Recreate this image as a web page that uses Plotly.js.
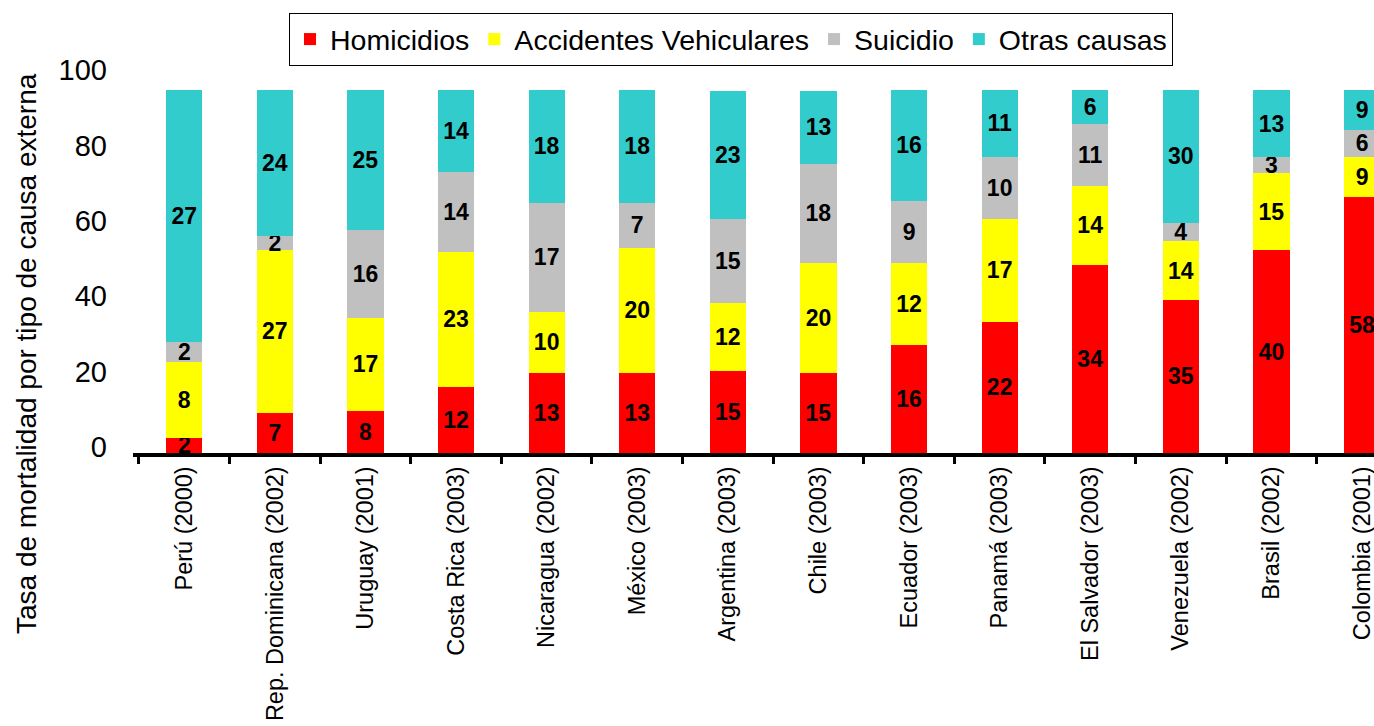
<!DOCTYPE html>
<html>
<head>
<meta charset="utf-8">
<script src="https://cdn.plot.ly/plotly-3.0.1.min.js"></script>
<style>html,body{margin:0;padding:0;background:#fff;}#chart{width:1374px;height:726px;}</style>
</head>
<body>
<div id="chart"></div>
<script>
// Categories (country, year)
const countries = ['Perú (2000)', 'Rep. Dominicana (2002)', 'Uruguay (2001)', 'Costa Rica (2003)',
  'Nicaragua (2002)', 'México (2003)', 'Argentina (2003)', 'Chile (2003)', 'Ecuador (2003)',
  'Panamá (2003)', 'El Salvador (2003)', 'Venezuela (2002)', 'Brasil (2002)', 'Colombia (2001)'];

// Labelled rates (text shown inside each segment)
const homicidiosLabel = [2, 7, 8, 12, 13, 13, 15, 15, 16, 22, 34, 35, 40, 58];
const accidentesLabel = [8, 27, 17, 23, 10, 20, 12, 20, 12, 17, 14, 14, 15, 9];
const suicidioLabel   = [2, 2, 16, 14, 17, 7, 15, 18, 9, 10, 11, 4, 3, 6];
const otrasLabel      = [27, 24, 25, 14, 18, 18, 23, 13, 16, 11, 6, 30, 13, 9];

// Segment heights (axis units)
const homicidiosHeight = [4.1, 10.7, 11.1, 17.6, 21.3, 21.3, 21.8, 21.3, 28.7, 34.8, 49.9, 40.6, 53.8, 67.9];
const accidentesHeight = [20.1, 43.1, 24.8, 35.8, 16.2, 33.2, 18.1, 29.2, 21.8, 27.3, 20.9, 15.6, 20.5, 10.6];
const suicidioHeight   = [5.3, 3.8, 23.3, 21.2, 28.9, 11.9, 22.2, 26.2, 16.4, 16.5, 16.5, 4.8, 4.2, 7.2];
const otrasHeight      = [66.8, 38.7, 37.1, 21.7, 29.9, 29.9, 33.9, 19.3, 29.4, 17.7, 9.0, 35.3, 17.8, 10.6];

const seriesNames = ['Homicidios', 'Accidentes Vehiculares', 'Suicidio', 'Otras causas'];
const seriesColors = ['#FF0000', '#FFFF00', '#C0C0C0', '#33CCCC'];
const yTicks = [0, 20, 40, 60, 80, 100];

const FONT = 'Liberation Sans, Arial, sans-serif';
const heights = [homicidiosHeight, accidentesHeight, suicidioHeight, otrasHeight];
const labels = [homicidiosLabel, accidentesLabel, suicidioLabel, otrasLabel];

const traces = seriesNames.map((name, i) => ({
  type: 'bar',
  name: name,
  x: countries,
  y: heights[i],
  text: labels[i].map(String),
  texttemplate: '<b>%{text}</b>',
  textposition: 'inside',
  insidetextanchor: 'middle',
  constraintext: 'none',
  textangle: 0,
  insidetextfont: {family: FONT, size: 23, color: '#000000'},
  marker: {color: seriesColors[i], line: {width: 0}},
  hoverinfo: 'x+name+text'
}));

const layout = {
  width: 1374,
  height: 726,
  paper_bgcolor: '#ffffff',
  plot_bgcolor: '#ffffff',
  barmode: 'stack',
  bargap: 0.6,
  margin: {l: 133, r: 0, t: 76, b: 273, pad: 0},
  font: {family: FONT, color: '#000000'},
  showlegend: true,
  legend: {
    orientation: 'h',
    x: 0.1257, xanchor: 'left',
    y: 1.167, yanchor: 'top',
    bordercolor: '#000000', borderwidth: 1,
    bgcolor: '#ffffff',
    font: {family: FONT, size: 28.5, color: '#000000'},
    itemwidth: 30,
    traceorder: 'normal'
  },
  xaxis: {
    type: 'category',
    range: [-0.566, 13.132],
    showgrid: false,
    zeroline: false,
    showline: true,
    linecolor: '#000000',
    linewidth: 4,
    ticks: 'outside',
    tickson: 'boundaries',
    ticklen: 7,
    tickwidth: 3,
    tickcolor: '#000000',
    tickangle: -90,
    tickfont: {family: FONT, size: 23.5, color: '#000000'},
    fixedrange: true
  },
  yaxis: {
    range: [0, 100],
    tickvals: yTicks,
    ticktext: yTicks.map(String),
    showgrid: false,
    zeroline: false,
    showline: false,
    ticks: '',
    ticklabelstandoff: 25,
    ticklabelshift: -6,
    tickfont: {family: FONT, size: 29, color: '#000000'},
    fixedrange: true
  },
  annotations: [{
    text: 'Tasa de mortalidad por tipo de causa externa',
    xref: 'paper', yref: 'paper',
    x: -0.0854, y: 0.2626,
    xanchor: 'center', yanchor: 'middle',
    textangle: -90,
    showarrow: false,
    font: {family: FONT, size: 28, color: '#000000'}
  }]
};

Plotly.newPlot('chart', traces, layout, {displayModeBar: false, staticPlot: true});
</script>
</body>
</html>
